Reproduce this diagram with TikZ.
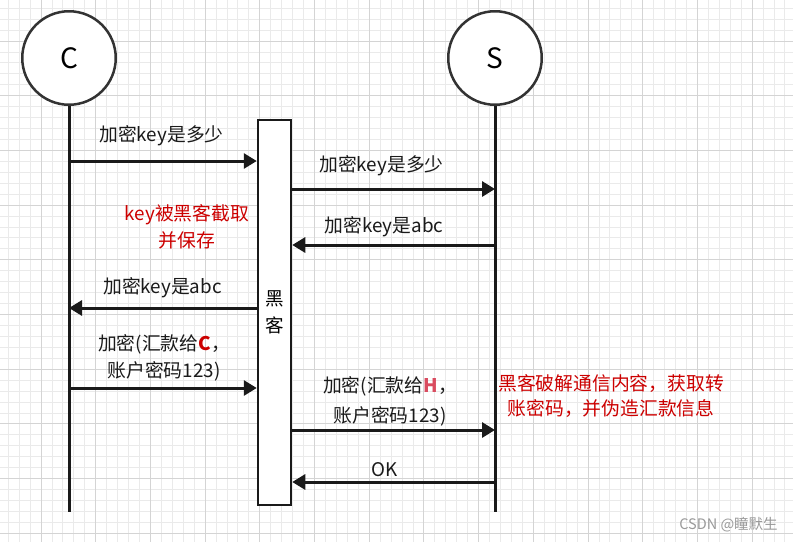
\documentclass[tikz,border=0pt]{standalone}
\usepackage{fontspec}
\setmainfont{Noto Sans CJK SC}
\usepackage{tikz}
\usetikzlibrary{positioning}
\usetikzlibrary{arrows.meta}
\definecolor{darkred}{HTML}{CC0000}
\definecolor{pinkred}{HTML}{D94B5F}
\definecolor{gridminor}{HTML}{EAEAEA}
\definecolor{gridmajor}{HTML}{D4D4D4}
\definecolor{strokegray}{HTML}{333333}
\definecolor{lineblack}{HTML}{1A1A1A}
\tikzset {
  % background grid
  gridline/.style={gridminor, line width=1pt},
  gridbold/.style={gridmajor, line width=1pt},
  % the two parties
  party/.style={circle, draw=strokegray, line width=2.5pt, fill=white, minimum size=93.5pt, inner sep=0pt, font=\fontsize{28}{30}\selectfont},
  % man in the middle
  hacker/.style={draw=lineblack, line width=2.5pt, fill=white, minimum width=33pt, minimum height=385pt, inner sep=0pt, align=center, font=\fontsize{18.5}{26.5}\selectfont},
  life/.style={lineblack, line width=3pt},
  msg/.style={lineblack, line width=3pt, -{Triangle[length=13pt, width=15pt]}},
  lbl/.style={text=lineblack, align=center, inner sep=0pt, font=\fontsize{18.8}{27}\selectfont},
  note/.style={lbl, text=darkred},
  wmtext/.style={text=gray!80, inner sep=0pt, font=\fontsize{14.5}{16}\selectfont},
}

\begin{document}
\begin{tikzpicture}[x=1pt, y=-1pt]
  \useasboundingbox (0,0) rectangle (793,542);
  \fill[white] (0,0) rectangle (793,542);
  \foreach \i in {0,...,71} \draw[gridline] ({8.24+10.94*\i},0) -- ({8.24+10.94*\i},542);
  \foreach \i in {0,...,48} \draw[gridline] (0,{8.24+10.94*\i}) -- (793,{8.24+10.94*\i});
  \foreach \k in {1,...,14} \draw[gridbold] ({-13.7+54.7*\k},0) -- ({-13.7+54.7*\k},542);
  \foreach \k in {1,...,10} \draw[gridbold] (0,{-13.7+54.7*\k}) -- (793,{-13.7+54.7*\k});

  \node[party] (C) at (69,58) {C};
  \node[party] (S) at (495,58) {S};
  \node[hacker] (hk) at (274.5,312.3) {黑\\客};
  \coordinate (Cend) at (69,512);
  \coordinate (Send) at (495,512);
  \draw[life] (C) -- (Cend);
  \draw[life] (S) -- (Send);

  \draw[msg] (C |- 0,161) -- (hk.west |- 0,161);
  \draw[msg] (hk.east |- 0,189) -- (S |- 0,189);
  \draw[msg] (S |- 0,245) -- (hk.east |- 0,245);
  \draw[msg] (hk.west |- 0,308) -- (C |- 0,308);
  \draw[msg] (C |- 0,388) -- (hk.west |- 0,388);
  \draw[msg] (hk.east |- 0,430) -- (S |- 0,430);
  \draw[msg] (S |- 0,482) -- (hk.east |- 0,482);

  \node[lbl] (l1) at (161.5,136) {加密key是多少};
  \node[lbl] (l2) at (381.5,166) {加密key是多少};
  \node[lbl] (l3) at (384,227) {加密key是abc};
  \node[lbl] (l4) at (162.5,288) {加密key是abc};
  \node[lbl] (l5) at (164,358) {加密(汇款给{\bfseries\color{darkred}C}，\\账户密码123)};
  \node[lbl, font=\fontsize{18.8}{30}\selectfont] (l6) at (390,401) {加密(汇款给{\bfseries\color{pinkred}H}，\\账户密码123)};
  \node[lbl] (l7) at (385,470) {OK};

  \node[note] (n1) at (187,226.5) {key被黑客截取\\并保存};
  \node[note, font=\fontsize{18.8}{25}\selectfont] (n2) at (611,396) {黑客破解通信内容，获取转\\账密码，并伪造汇款信息};

  \node[wmtext] (wm) at (728.5,525) {CSDN @瞳默生};
\end{tikzpicture}
\end{document}
